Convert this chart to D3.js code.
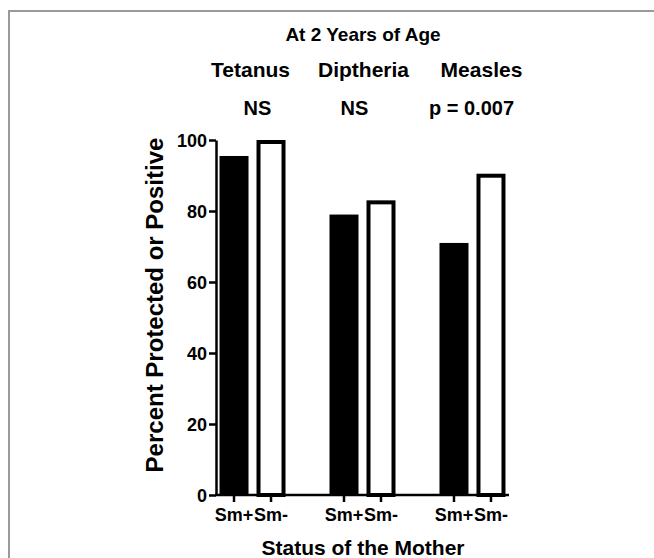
<!DOCTYPE html>
<html lang="en">
<head>
<meta charset="UTF-8">
<title>At 2 Years of Age</title>
<script src="https://cdn.jsdelivr.net/npm/d3@7"></script>
<style>
  body { margin: 0; background: #fff; }
  svg text { font-family: "Liberation Sans", Arial, sans-serif; font-weight: bold; fill: #000; }
</style>
</head>
<body>
<div id="grafica"></div>
<script>
// data
vaccines = ['Tetanus', 'Diptheria', 'Measles']
pvalues = ['NS', 'NS', 'p = 0.007']
motherStatus = ['Sm+', 'Sm-']
smPos = [95.5, 79, 71]     // Sm+ (black)
smNeg = [100, 83, 90.5]    // Sm- (white)
yTicks = [0, 20, 40, 60, 80, 100]

ancho_total = 654
alto_total = 558

svg = d3.select('#grafica')
  .append('svg')
  .attr('width', ancho_total)
  .attr('height', alto_total)

// frame
svg.append('path')
  .attr('d', 'M9,' + alto_total + 'V11H' + ancho_total)
  .attr('fill', 'none')
  .attr('stroke', '#9a9a9a')
  .attr('stroke-width', 2)

x = d3.scalePoint()
  .domain(vaccines)
  .range([216, 509])
  .padding(0.332)

xs = d3.scalePoint()
  .domain(motherStatus)
  .range([-18.5, 18.5])

y = d3.scaleLinear()
  .domain([0, 100])
  .range([495, 140])

bw = 29

data = []
vaccines.forEach((v, i) => {
  data.push({ v: v, s: 'Sm+', val: smPos[i] })
  data.push({ v: v, s: 'Sm-', val: smNeg[i] })
})

// bars
svg.selectAll('rect.neg')
  .data(data.filter(d => d.s == 'Sm-'))
  .enter().append('rect')
  .attr('x', d => x(d.v) + xs(d.s) - bw / 2 + 2)
  .attr('y', d => y(d.val) + 2)
  .attr('width', bw - 4)
  .attr('height', d => y(0) - y(d.val) - 2)
  .attr('fill', '#fff')
  .attr('stroke', '#000')
  .attr('stroke-width', 4)

svg.selectAll('rect.pos')
  .data(data.filter(d => d.s == 'Sm+'))
  .enter().append('rect')
  .attr('x', d => x(d.v) + xs(d.s) - bw / 2)
  .attr('y', d => y(d.val))
  .attr('width', bw)
  .attr('height', d => y(0) - y(d.val))
  .attr('fill', '#000')

// y axis
yAxis = svg.append('g')
  .attr('transform', 'translate(216,0)')
  .call(d3.axisLeft(y).tickValues(yTicks).tickSize(7).tickSizeOuter(0).tickPadding(2))
yAxis.selectAll('path, line').attr('stroke', '#000').attr('stroke-width', 2.5)
yAxis.selectAll('text').style('font-size', '18px').attr('dy', '0.36em')

// x axis
xAxis = svg.append('g')
  .attr('transform', 'translate(0,' + y(0) + ')')
xAxis.append('line')
  .attr('x1', 215).attr('x2', x.range()[1])
  .attr('stroke', '#000').attr('stroke-width', 2.5)
xAxis.selectAll('g.tick')
  .data(data)
  .enter().append('g')
  .attr('transform', d => 'translate(' + (x(d.v) + xs(d.s)) + ',0)')
  .each(function (d) {
    t = d3.select(this)
    t.append('line').attr('y2', 7).attr('stroke', '#000').attr('stroke-width', 2.5)
    t.append('text').attr('y', 26).attr('text-anchor', 'middle')
      .style('font-size', '18px').text(d.s)
  })

// titles
svg.append('text')
  .attr('x', 363).attr('y', 41)
  .attr('text-anchor', 'middle')
  .style('font-size', '19px')
  .text('At 2 Years of Age')

svg.selectAll('text.vac')
  .data(vaccines)
  .enter().append('text')
  .attr('x', (d, i) => x(d) + [-2, 1, 9][i])
  .attr('y', 77)
  .attr('text-anchor', 'middle')
  .style('font-size', '21px')
  .text(d => d)

svg.selectAll('text.pv')
  .data(pvalues)
  .enter().append('text')
  .attr('x', (d, i) => x(vaccines[i]) + [5, -8, -1][i])
  .attr('y', 115)
  .attr('text-anchor', 'middle')
  .style('font-size', '20px')
  .text(d => d)

// axis titles
svg.append('text')
  .attr('transform', 'translate(163,305) rotate(-90)')
  .attr('text-anchor', 'middle')
  .style('font-size', '24px')
  .text('Percent Protected or Positive')

svg.append('text')
  .attr('x', 363).attr('y', 555)
  .attr('text-anchor', 'middle')
  .style('font-size', '21px')
  .text('Status of the Mother')
</script>
</body>
</html>
